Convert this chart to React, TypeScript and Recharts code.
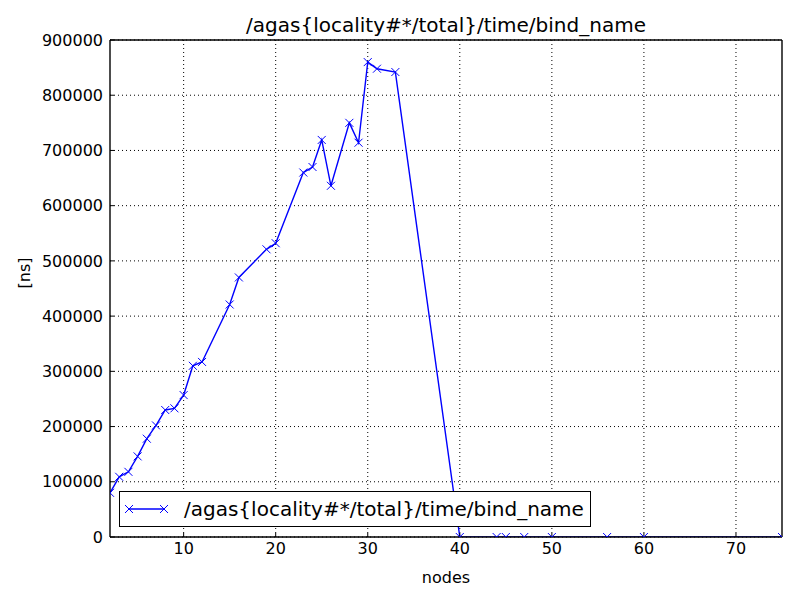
import React from "react";
import {
  LineChart,
  Line,
  XAxis,
  YAxis,
  CartesianGrid,
  Legend,
  ReferenceLine,
} from "recharts";

const nodes = [2, 3, 4, 5, 6, 7, 8, 9, 10, 11, 12, 15, 16, 19, 20, 23, 24, 25, 26, 28, 29, 30, 31, 33, 40, 44, 45, 47, 50, 56, 60, 75];
const bindNameNs = [
  80000, 109000, 118000, 146000, 178000, 202000, 230000, 233000, 257000, 310000, 317000,
  421000, 470000, 521000, 532000, 660000, 670000, 719000, 636000, 750000, 714000,
  860000, 848000, 842000, 0, 0, 0, 0, 0, 0, 0, 0,
];
const xTicks = [10, 20, 30, 40, 50, 60, 70];
const yTicks = [0, 100000, 200000, 300000, 400000, 500000, 600000, 700000, 800000, 900000];

const seriesName = "/agas{locality#*/total}/time/bind_name";
const data = nodes.map((n, i) => ({ nodes: n, value: bindNameNs[i] }));

const FONT = "'DejaVu Sans', sans-serif";
const BLUE = "#0000ff";

const Cross = (props: any) => {
  const { cx, cy } = props;
  if (cx == null || cy == null) return null;
  const r = 4;
  return (
    <path
      key={`x-${props.index}`}
      d={`M${cx - r},${cy - r}L${cx + r},${cy + r}M${cx - r},${cy + r}L${cx + r},${cy - r}`}
      stroke={BLUE}
      strokeWidth={1}
      fill="none"
    />
  );
};

const NoTick = () => <g />;

const LegendBox = () => (
  <div
    style={{
      border: "1px solid #000",
      background: "#fff",
      display: "flex",
      alignItems: "center",
      height: 34,
      padding: "0 6px 0 4px",
      fontFamily: FONT,
      fontSize: 20,
      whiteSpace: "nowrap",
    }}
  >
    <svg width={48} height={20} style={{ marginRight: 12 }}>
      <line x1={5} y1={10} x2={40} y2={10} stroke={BLUE} strokeWidth={1.4} />
      <Cross cx={5} cy={10} index={0} />
      <Cross cx={40} cy={10} index={1} />
    </svg>
    <span>{seriesName}</span>
  </div>
);

export default function App() {
  return (
    <div style={{ position: "absolute", left: 0, top: 0, width: 800, height: 600, background: "#fff" }}>
      <div
        style={{
          position: "absolute",
          left: 110,
          width: 672,
          top: 13,
          textAlign: "center",
          fontFamily: FONT,
          fontSize: 20,
          color: "#000",
        }}
      >
        {seriesName}
      </div>
      <LineChart
        width={800}
        height={600}
        data={data}
        margin={{ top: 40, right: 18, bottom: 0, left: 0 }}
        style={{ fontFamily: FONT }}
      >
        <CartesianGrid stroke="#000" strokeDasharray="1 3" verticalValues={xTicks} horizontalValues={yTicks} />
        <XAxis
          dataKey="nodes"
          type="number"
          domain={[2, 75]}
          ticks={xTicks}
          allowDataOverflow
          height={63}
          stroke="#000"
          axisLine={{ stroke: "#000", strokeWidth: 1.4 }}
          tickSize={-4}
          tickMargin={10}
          tick={{ fill: "#000", fontSize: 16 }}
          label={{ value: "nodes", position: "insideBottom", offset: 17, fill: "#000", fontSize: 16 }}
        />
        <XAxis
          xAxisId="top"
          orientation="top"
          dataKey="nodes"
          type="number"
          domain={[2, 75]}
          ticks={xTicks}
          allowDataOverflow
          height={0}
          stroke="#000"
          tickSize={-4}
          tick={NoTick}
        />
        <YAxis
          type="number"
          domain={[0, 900000]}
          ticks={yTicks}
          allowDataOverflow
          width={110}
          stroke="#000"
          axisLine={{ stroke: "#000", strokeWidth: 1.4 }}
          tickSize={-4}
          tickMargin={11}
          tick={{ fill: "#000", fontSize: 16 }}
          label={{ value: "[ns]", angle: -90, position: "insideLeft", offset: 24, fill: "#000", fontSize: 16 }}
        />
        <YAxis
          yAxisId="right"
          orientation="right"
          type="number"
          domain={[0, 900000]}
          ticks={yTicks}
          width={0}
          stroke="#000"
          tickSize={-4}
          tick={NoTick}
        />
        <ReferenceLine y={900000} stroke="#000" strokeWidth={1.4} />
        <ReferenceLine x={75} stroke="#000" strokeWidth={1.4} />
        <Legend
          layout="horizontal"
          verticalAlign="middle"
          align="center"
          content={LegendBox}
          wrapperStyle={{ position: "absolute", left: 119, top: 491, width: "auto", height: "auto" }}
        />
        <Line
          type="linear"
          dataKey="value"
          name={seriesName}
          stroke={BLUE}
          strokeWidth={1.4}
          dot={Cross}
          activeDot={false}
          isAnimationActive={false}
        />
      </LineChart>
    </div>
  );
}
